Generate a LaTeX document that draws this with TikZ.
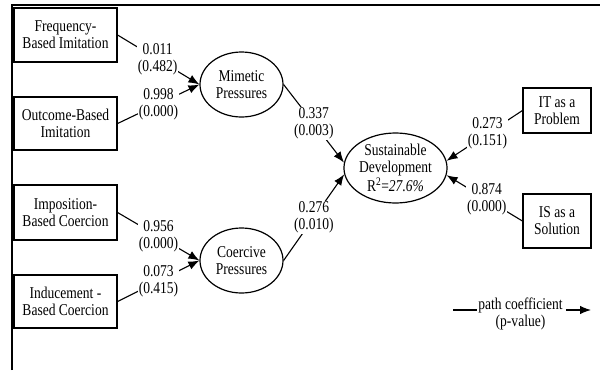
\documentclass[tikz,border=0pt]{standalone}
\usepackage{fontspec}
\setmainfont{Liberation Serif}[FakeStretch=0.82]
\usetikzlibrary{shapes.geometric,arrows.meta,calc}
\begin{document}
\begin{tikzpicture}[x=1pt,y=-1pt,
  every node/.style={font=\fontsize{16.5}{17}\selectfont},
  box/.style={draw,line width=1.2pt,align=center,inner sep=0pt},
  latent/.style={draw,ellipse,line width=1.2pt,align=center,inner sep=0pt},
  arr/.style={line width=1.1pt,-{Latex[length=11pt,width=8.5pt]}},
  lab/.style={fill=white,align=center,inner sep=1pt}]
\useasboundingbox (0,0) rectangle (600,370);
\draw[line width=2.3pt] (12,370) -- (12,5.3) -- (600,5.3);
% observed
\node[box,minimum width=103pt,minimum height=54pt] (freq) at (65.5,35) {Frequency-\\Based Imitation};
\node[box,minimum width=103pt,minimum height=53pt] (outc) at (65.5,123.5) {Outcome-Based\\Imitation};
\node[box,minimum width=103pt,minimum height=55pt] (impo) at (65.5,212.5) {Imposition-\\Based Coercion};
\node[box,minimum width=103pt,minimum height=53pt] (indu) at (65.5,301.5) {Inducement -\\Based Coercion};
\node[box,minimum width=68pt,minimum height=45pt] (it) at (557,110.5) {IT as a\\Problem};
\node[box,minimum width=68pt,minimum height=54pt] (is) at (557,221) {IS as a\\Solution};
% latent
\node[latent,minimum width=83pt,minimum height=65pt] (mim) at (241.5,84.5) {Mimetic\\Pressures};
\node[latent,minimum width=83pt,minimum height=65pt] (coer) at (241.5,260.5) {Coercive\\Pressures};
\node[latent,minimum width=103pt,minimum height=70pt] (sus) at (395.5,168) {Sustainable\\Development\\R\textsuperscript{2}=\textit{27.6\%}};
% paths
\draw[arr] (freq.east) -- node[lab,pos=0.49] {0.011\\(0.482)} (mim.west);
\draw[arr] (outc.east) -- node[lab,pos=0.5] {0.998\\(0.000)} (mim.west);
\draw[arr] (impo.east) -- node[lab,pos=0.5] {0.956\\(0.000)} (coer.west);
\draw[arr] (indu.east) -- node[lab,pos=0.5] {0.073\\(0.415)} (coer.west);
\draw[arr] (mim.east) -- node[lab,pos=0.5] {0.337\\(0.003)} (sus.174);
\draw[arr] (coer.east) -- node[lab,pos=0.5] {0.276\\(0.010)} (sus.187);
\draw[arr] (it.west) -- node[lab,pos=0.46] {0.273\\(0.151)} (sus.8);
\draw[arr] (is.west) -- node[lab,pos=0.47] {0.874\\(0.000)} (sus.-8);
% legend
\node[align=center,inner sep=0pt] (lg) at (520.5,314) {path coefficient\\(p-value)};
\coordinate (la) at (453,310);
\coordinate (lb) at (591,310);
\draw[line width=1.1pt] (la) -- ($(la -| lg.west)+(-1,0)$);
\draw[arr] ($(lb -| lg.east)+(3,0)$) -- (lb);
\end{tikzpicture}
\end{document}
